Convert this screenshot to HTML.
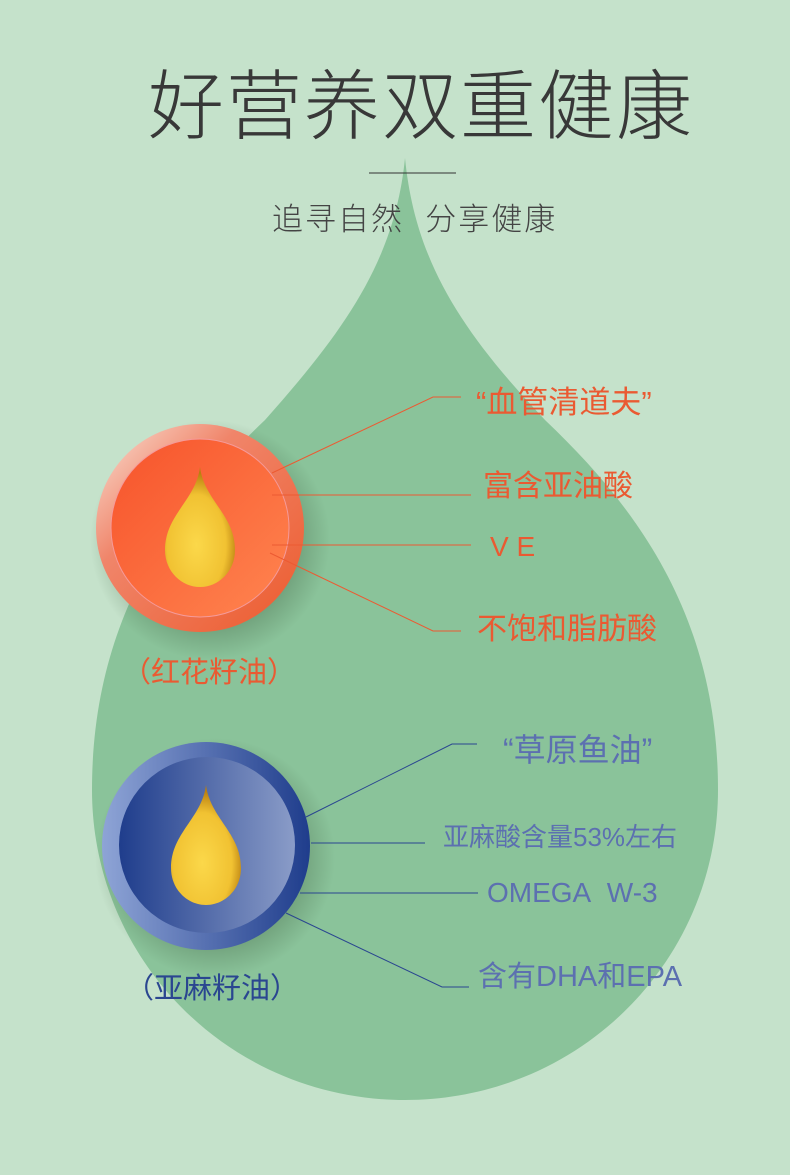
<!DOCTYPE html>
<html><head><meta charset="utf-8"><style>
html,body{margin:0;padding:0}
body{width:790px;height:1175px;background:#c5e2cb;position:relative;overflow:hidden;font-family:"Liberation Sans","Noto Sans CJK SC",sans-serif}
.t{position:absolute;white-space:nowrap;line-height:1}
.r{color:#ea5a32}
.b{color:#5c70b0}
</style></head><body>
<svg width="790" height="1175" style="position:absolute;left:0;top:0">
<defs>
<radialGradient id="sh" cx="0.5" cy="0.5" r="0.5"><stop offset="0.6" stop-color="#3c5a3c" stop-opacity="0.45"/><stop offset="1" stop-color="#3c5a3c" stop-opacity="0"/></radialGradient>
<linearGradient id="ro" x1="0" y1="0" x2="1" y2="1"><stop offset="0" stop-color="#f9e2d6"/><stop offset="0.35" stop-color="#f0856a"/><stop offset="1" stop-color="#ec5a2c"/></linearGradient>
<linearGradient id="ri" x1="0" y1="0" x2="1" y2="1"><stop offset="0" stop-color="#f7532b"/><stop offset="1" stop-color="#ff8550"/></linearGradient>
<linearGradient id="bo" x1="0" y1="0" x2="1" y2="0"><stop offset="0" stop-color="#8ea4d6"/><stop offset="1" stop-color="#1f3d8c"/></linearGradient>
<linearGradient id="bi" x1="0" y1="0" x2="1" y2="0"><stop offset="0" stop-color="#1f3d8c"/><stop offset="1" stop-color="#8a9cc8"/></linearGradient>
<radialGradient id="oil" cx="0.45" cy="0.65" r="0.6"><stop offset="0" stop-color="#fbd84a"/><stop offset="0.7" stop-color="#f1c232"/><stop offset="1" stop-color="#b97f10"/></radialGradient>
</defs>
<path d="M405,158 C415,260 460,330 545,420 C640,510 718,620 718,790 C718,960 580,1100 405,1100 C230,1100 92,960 92,790 C92,620 170,510 265,420 C345,330 395,260 405,158 Z" fill="#8ac39a"/>
<line x1="369" y1="173" x2="456" y2="173" stroke="#333" stroke-width="1"/>
<circle cx="210" cy="540" r="120" fill="url(#sh)"/>
<circle cx="200" cy="528" r="104" fill="url(#ro)"/>
<circle cx="200" cy="528" r="89" fill="url(#ri)" stroke="#f59a9a" stroke-width="1"/>
<path d="M200,467 C196,500 165,515 165,550 C165,572 182,587 200,587 C218,587 235,572 235,550 C235,515 204,500 200,467 Z" fill="url(#oil)"/>
<circle cx="215" cy="858" r="120" fill="url(#sh)"/>
<circle cx="206" cy="846" r="104" fill="url(#bo)"/>
<circle cx="207" cy="845" r="88" fill="url(#bi)"/>
<path d="M206,785 C202,818 171,833 171,868 C171,890 188,905 206,905 C224,905 241,890 241,868 C241,833 210,818 206,785 Z" fill="url(#oil)"/>
<g stroke="#ec5a32" stroke-width="1" fill="none">
<polyline points="272,473 433,397 461,397"/>
<line x1="272" y1="495" x2="471" y2="495"/>
<line x1="272" y1="545" x2="471" y2="545"/>
<polyline points="270,553 433,631 461,631"/>
</g>
<g stroke="#2a4690" stroke-width="1" fill="none">
<polyline points="306,817 452,744 477,744"/>
<line x1="311" y1="843" x2="425" y2="843"/>
<line x1="300" y1="893" x2="478" y2="893"/>
<polyline points="286,913 442,987 469,987"/>
</g>
</svg>
<div class="t" style="left:148px;top:70px;font-size:76px;color:#383838;letter-spacing:2px;font-weight:300">好营养双重健康</div>
<div class="t" style="left:272px;top:204px;font-size:31px;color:#444;font-weight:300;letter-spacing:2px">追寻自然&nbsp;&nbsp;分享健康</div>
<div class="t r" style="left:476px;top:387px;font-size:31px">“血管清道夫”</div>
<div class="t r" style="left:483px;top:472px;font-size:30px">富含亚油酸</div>
<div class="t r" style="left:490px;top:533px;font-size:28px">V E</div>
<div class="t r" style="left:477px;top:615px;font-size:30px">不饱和脂肪酸</div>
<div class="t r" style="left:122px;top:659px;font-size:29px">（红花籽油）</div>
<div class="t b" style="left:503px;top:734px;font-size:32px">“草原鱼油”</div>
<div class="t b" style="left:443px;top:824px;font-size:26px">亚麻酸含量53%左右</div>
<div class="t b" style="left:487px;top:879px;font-size:28px">OMEGA&nbsp; W-3</div>
<div class="t b" style="left:478px;top:963px;font-size:29px">含有DHA和EPA</div>
<div class="t" style="left:125px;top:975px;font-size:29px;color:#2a4690">（亚麻籽油）</div>
</body></html>
